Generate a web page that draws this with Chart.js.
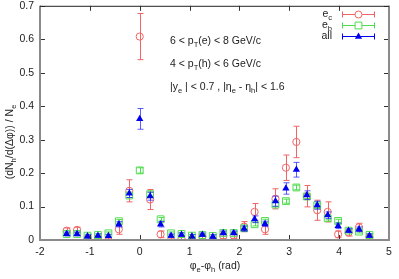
<!DOCTYPE html>
<html><head><meta charset="utf-8">
<script src="https://cdn.jsdelivr.net/npm/chart.js@4/dist/chart.umd.min.js"></script>
<style>html,body{margin:0;padding:0;background:#fff}#wrap{width:399px;height:279px}</style>
</head><body><div id="wrap"><canvas id="c" width="399" height="279"></canvas></div>
<script>
// bin centres (rad)
const xs = [-1.466,-1.257,-1.047,-0.838,-0.628,-0.419,-0.209,0,0.209,0.419,0.628,0.838,1.047,1.257,1.466,1.676,1.885,2.094,2.304,2.513,2.723,2.932,3.142,3.351,3.560,3.770,3.979,4.189,4.398,4.608];
// e_c series
const ecVals = [0.028,0.030,0.005,0.005,0.000,0.032,0.147,0.608,0.121,0.017,0.000,0.003,0.000,0.010,0.000,0.012,0.013,0.040,0.084,0.032,0.123,0.216,0.293,0.131,0.089,0.084,0.017,0.022,0.038,0.008];
const ecErr  = [0.008,0.008,0.006,0.006,0.006,0.015,0.033,0.069,0.030,0.010,0.006,0.006,0.006,0.006,0.006,0.008,0.008,0.015,0.025,0.015,0.030,0.038,0.047,0.032,0.030,0.030,0.010,0.010,0.012,0.008];
// e_b series
const ebVals = [0.018,0.018,0.013,0.015,0.020,0.056,0.133,0.208,0.137,0.062,0.020,0.018,0.013,0.015,0.012,0.021,0.021,0.035,0.047,0.057,0.106,0.116,0.157,0.130,0.104,0.065,0.057,0.028,0.025,0.015];
const ebErr  = [0.004,0.004,0.004,0.004,0.004,0.005,0.006,0.008,0.006,0.005,0.004,0.004,0.004,0.004,0.004,0.004,0.004,0.005,0.005,0.005,0.006,0.006,0.007,0.006,0.006,0.005,0.005,0.004,0.004,0.004];
// all series
const allVals = [0.018,0.018,0.011,0.013,0.012,0.047,0.139,0.362,0.131,0.047,0.013,0.016,0.011,0.016,0.010,0.021,0.021,0.034,0.062,0.048,0.116,0.154,0.210,0.134,0.104,0.074,0.042,0.028,0.032,0.013];
const allErr  = [0.006,0.006,0.005,0.005,0.005,0.008,0.012,0.031,0.012,0.008,0.005,0.005,0.005,0.005,0.005,0.006,0.006,0.008,0.010,0.008,0.015,0.017,0.022,0.013,0.012,0.010,0.008,0.006,0.007,0.005];
// axis ticks
const xTicks = [-2,-1,0,1,2,3,4,5];
const yTicks = [0,0.1,0.2,0.3,0.4,0.5,0.6,0.7];

const RED='#f06464', GREEN='#50dc50', BLUE='#0000f0';
const FONT='"Liberation Sans", Arial, sans-serif';

function pts(v){return xs.map((x,i)=>({x:x,y:v[i]}));}

function richText(ctx, parts, x, y, size, align){
  let w=0;
  parts.forEach(p=>{ctx.font=(p[1]==='s'?size*0.72:size)+'px '+FONT; w+=ctx.measureText(p[0]).width;});
  let cx = align==='right'? x-w : (align==='center'? x-w/2 : x);
  parts.forEach(p=>{
    const s = p[1]==='s'? size*0.72 : size;
    ctx.font=s+'px '+FONT;
    ctx.fillText(p[0], cx, p[1]==='s'? y+size*0.28 : y);
    cx += ctx.measureText(p[0]).width;
  });
}

const gp = {
  id:'gp',
  beforeDatasetDraw(chart,args){
    const ds = chart.data.datasets[args.index];
    const ys = chart.scales.y, ca = chart.chartArea, ctx = chart.ctx;
    ctx.save();
    ctx.beginPath(); ctx.rect(ca.left,ca.top,ca.right-ca.left,ca.bottom-ca.top); ctx.clip();
    ctx.strokeStyle = ds.errColor; ctx.lineWidth = 1;
    args.meta.data.forEach((pt,i)=>{
      const v = ds.data[i].y, e = ds.err[i];
      const x = Math.round(pt.x)+0.5;
      const y1 = ys.getPixelForValue(v+e), y2 = ys.getPixelForValue(v-e);
      ctx.beginPath();
      ctx.moveTo(x,y1); ctx.lineTo(x,y2);
      ctx.moveTo(x-3,y1); ctx.lineTo(x+3,y1);
      ctx.moveTo(x-3,y2); ctx.lineTo(x+3,y2);
      ctx.stroke();
    });
    ctx.restore();
  },
  afterDraw(chart){
    const ctx = chart.ctx, ca = chart.chartArea, xsS = chart.scales.x, ysS = chart.scales.y;
    ctx.save();
    ctx.strokeStyle='#333'; ctx.lineWidth=1;
    ctx.beginPath();
    xTicks.forEach(t=>{const x=Math.round(xsS.getPixelForValue(t))+0.5;
      ctx.moveTo(x,ca.bottom); ctx.lineTo(x,ca.bottom-5);
      ctx.moveTo(x,ca.top); ctx.lineTo(x,ca.top+5);});
    yTicks.forEach(t=>{const y=Math.round(ysS.getPixelForValue(t))+0.5;
      ctx.moveTo(ca.left,y); ctx.lineTo(ca.left+5,y);
      ctx.moveTo(ca.right,y); ctx.lineTo(ca.right-5,y);});
    ctx.stroke();
    ctx.strokeStyle='#8a8a8a'; ctx.lineWidth=2;
    ctx.beginPath();
    ctx.moveTo(ca.left,ca.top); ctx.lineTo(ca.left,ca.bottom); ctx.lineTo(ca.right,ca.bottom); ctx.lineTo(ca.right,ca.top);
    ctx.stroke();
    ctx.strokeStyle='#222'; ctx.lineWidth=1;
    ctx.beginPath(); ctx.moveTo(ca.left,ca.top+0.5); ctx.lineTo(ca.right,ca.top+0.5); ctx.stroke();

    ctx.textBaseline='alphabetic';
    const legend=[
      {lab:[['e','n'],['c','s']], col:RED, st:'circle', y:14},
      {lab:[['e','n'],['b','s']], col:GREEN, st:'rect', y:25},
      {lab:[['all','n']], col:BLUE, st:'tri', y:36}
    ];
    legend.forEach(L=>{
      ctx.fillStyle='#222';
      richText(ctx,L.lab,332,L.y+3,10.5,'right');
      ctx.strokeStyle = L.col; ctx.lineWidth=1;
      const y = L.y+0.5;
      ctx.beginPath();
      ctx.moveTo(342,y); ctx.lineTo(375,y);
      ctx.moveTo(342.5,y-3); ctx.lineTo(342.5,y+3);
      ctx.moveTo(374.5,y-3); ctx.lineTo(374.5,y+3);
      ctx.stroke();
      const cx=358.5;
      ctx.beginPath();
      if(L.st==='circle'){ctx.fillStyle='#fff'; ctx.arc(cx,y,3.5,0,Math.PI*2); ctx.fill(); ctx.stroke();}
      else if(L.st==='rect'){ctx.fillStyle='#fff'; ctx.rect(cx-3.4,y-3.4,6.8,6.8); ctx.fill(); ctx.stroke();}
      else {ctx.fillStyle=L.col; ctx.moveTo(cx,y-4); ctx.lineTo(cx+3.6,y+2.2); ctx.lineTo(cx-3.6,y+2.2); ctx.closePath(); ctx.fill();}
    });

    ctx.fillStyle='#222';
    richText(ctx,[['6 < p','n'],['T','s'],['(e) < 8 GeV/c','n']],170,44,10.5,'left');
    richText(ctx,[['4 < p','n'],['T','s'],['(h) < 6 GeV/c','n']],170,67,10.5,'left');
    richText(ctx,[['|y','n'],['e','s'],[' | < 0.7 , |\u03b7','n'],['e','s'],[' - \u03b7','n'],['h','s'],['| < 1.6','n']],170,90,10.5,'left');

    richText(ctx,[['\u03c6','n'],['e','s'],['-\u03c6','n'],['h','s'],[' (rad)','n']],215,269,10.5,'center');
    ctx.save();
    ctx.translate(13,142); ctx.rotate(-Math.PI/2);
    richText(ctx,[['(dN','n'],['h','s'],['/d(\u0394\u03c6)) / N','n'],['e','s']],0,0,10.5,'center');
    ctx.restore();
    ctx.restore();
  }
};

new Chart(document.getElementById('c'),{
  type:'scatter',
  data:{datasets:[
    {label:'all', data:pts(allVals), err:allErr, errColor:'rgba(40,40,255,0.75)', pointStyle:'triangle', radius:4.2, backgroundColor:BLUE, borderColor:BLUE, borderWidth:0, order:0},
    {label:'e_b', data:pts(ebVals), err:ebErr, errColor:GREEN, pointStyle:'rect', radius:4.8, backgroundColor:'rgba(0,0,0,0)', borderColor:GREEN, borderWidth:1, order:1},
    {label:'e_c', data:pts(ecVals), err:ecErr, errColor:RED, pointStyle:'circle', radius:3.6, backgroundColor:'rgba(0,0,0,0)', borderColor:RED, borderWidth:1, order:2}
  ]},
  options:{
    responsive:false, animation:false, devicePixelRatio:1,
    layout:{padding:{top:5,right:10,left:0,bottom:0}},
    plugins:{legend:{display:false},tooltip:{enabled:false}},
    elements:{point:{hoverRadius:4}},
    scales:{
      x:{type:'linear',min:-2,max:5,
        afterFit(s){s.height=39;s.paddingLeft=0;s.paddingRight=0;},
        afterBuildTicks(s){s.ticks=xTicks.map(v=>({value:v}));},
        grid:{display:false,drawTicks:false}, border:{display:false},
        ticks:{padding:6,color:'#222',font:{family:FONT,size:10.5},callback:v=>String(v)}},
      y:{type:'linear',min:0,max:0.7,
        afterFit(s){s.width=40;s.paddingTop=0;s.paddingBottom=0;},
        afterBuildTicks(s){s.ticks=yTicks.map(v=>({value:v}));},
        grid:{display:false,drawTicks:false}, border:{display:false},
        ticks:{padding:6,color:'#222',font:{family:FONT,size:10.5},callback:v=>String(Math.round(v*10)/10)}}
    }
  },
  plugins:[gp]
});
</script></body></html>
